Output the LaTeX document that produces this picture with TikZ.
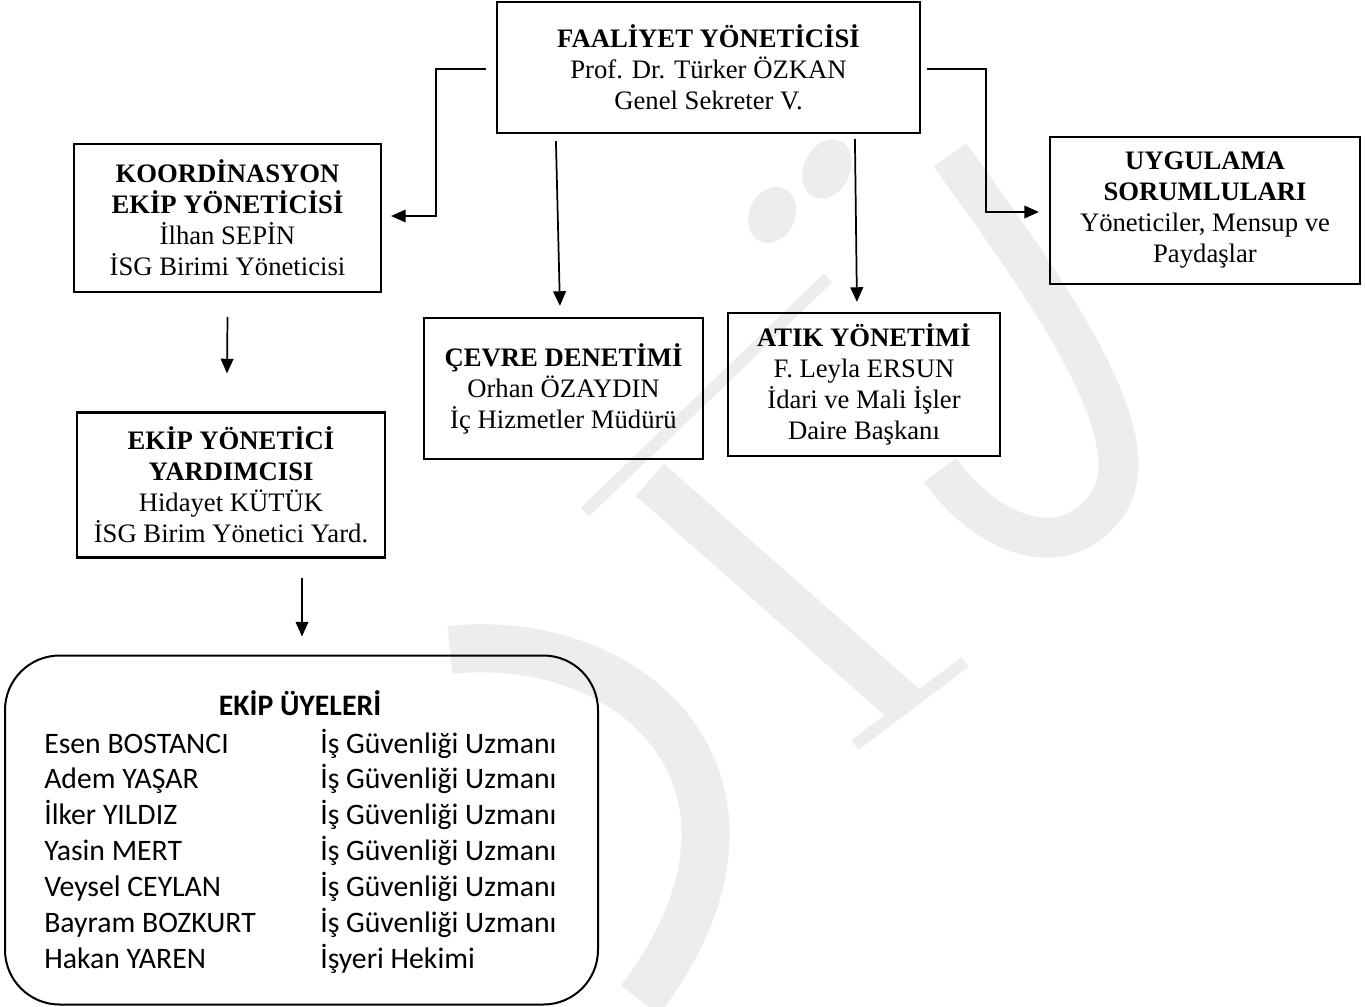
\documentclass[tikz,border=0pt]{standalone}
\usepackage{fontspec}
\setmainfont{Liberation Serif}
\newfontfamily\calfont{Carlito}
\usetikzlibrary{arrows.meta,calc}
\tikzset{
  box/.style={draw=black, line width=1.6pt, align=center, inner sep=0pt,
    font=\fontsize{20}{23.25}\selectfont},
  arr/.style={draw=black, line width=1.3pt, -{Triangle[length=11pt,width=9.5pt]}},
  wm/.style={draw=black!7, line cap=butt},
  wmfill/.style={fill=black!7, draw=none},
  mem/.style={anchor=base west, inner sep=0pt, font=\calfont\fontsize{22.3}{26}\selectfont}
}
\begin{document}
\begin{tikzpicture}[x=0.75pt,y=-0.75pt]
\useasboundingbox (0,0) rectangle (1365,1007);
\fill[white] (0,0) rectangle (1365,1007);
% watermark (faint logo)
\begin{scope}
\fill[wmfill, rotate around={-25:(827,169)}] (827,169) ellipse (23 and 31);
\fill[wmfill, rotate around={-25:(772,215)}] (772,215) ellipse (23 and 29);
\draw[wm, line width=30pt] (950,155) .. controls (1040,280) and (1150,430) .. (1110,500)
   .. controls (1070,565) and (990,540) .. (940,470);
\draw[wm, line width=9pt] (585,512) -- (828,278);
\draw[wm, line width=32pt] (650,480) -- (905,705);
\draw[wm, line width=9pt] (855,745) -- (965,662);
\draw[wm, line width=36pt] (450,650) .. controls (640,630) and (800,790) .. (640,1000);
\end{scope}
% boxes
\node[box, minimum width=423*0.75pt, minimum height=131*0.75pt] (top) at (708.5,67.5)
  {\textbf{FAALİYET YÖNETİCİSİ}\\Prof. Dr. Türker ÖZKAN\\Genel Sekreter V.};
\node[box, minimum width=307*0.75pt, minimum height=148*0.75pt] (koord) at (227.5,218)
  {\textbf{KOORDİNASYON}\\\textbf{EKİP YÖNETİCİSİ}\\İlhan SEPİN\\İSG Birimi Yöneticisi};
\node[box, minimum width=310*0.75pt, minimum height=147*0.75pt] (uyg) at (1205,210.5)
  {\textbf{UYGULAMA}\\\textbf{SORUMLULARI}\\Yöneticiler, Mensup ve\\Paydaşlar};
\node[box, minimum width=279*0.75pt, minimum height=141*0.75pt] (cevre) at (563.5,388.5)
  {\textbf{ÇEVRE DENETİMİ}\\Orhan ÖZAYDIN\\İç Hizmetler Müdürü};
\node[box, minimum width=272*0.75pt, minimum height=143*0.75pt] (atik) at (864,384.5)
  {\textbf{ATIK YÖNETİMİ}\\F. Leyla ERSUN\\İdari ve Mali İşler\\Daire Başkanı};
\node[box, minimum width=308*0.75pt, minimum height=145*0.75pt] (yard) at (231,485)
  {\textbf{EKİP YÖNETİCİ}\\\textbf{YARDIMCISI}\\Hidayet KÜTÜK\\İSG Birim Yönetici Yard.};
\node[draw=black, line width=1.5pt, rounded corners=41pt, minimum width=593*0.75pt,
  minimum height=349*0.75pt, inner sep=0pt] (uye) at (301.5,830) {};
% member list
\node[anchor=base, inner sep=0pt, font=\calfont\bfseries\fontsize{22.3}{26}\selectfont] (uyet) at (300,715) {EKİP ÜYELERİ};
\foreach \i/\n/\r/\y in {1/Esen BOSTANCI/İş Güvenliği Uzmanı/753,
  2/Adem YAŞAR/İş Güvenliği Uzmanı/788.5,
  3/İlker YILDIZ/İş Güvenliği Uzmanı/824.5,
  4/Yasin MERT/İş Güvenliği Uzmanı/860.5,
  5/Veysel CEYLAN/İş Güvenliği Uzmanı/896.5,
  6/Bayram BOZKURT/İş Güvenliği Uzmanı/932,
  7/Hakan YAREN/İşyeri Hekimi/968}{
  \node[mem] (n\i) at (44,\y) {\n};
  \node[mem] (r\i) at (320,\y) {\r};
}
% connectors
\draw[arr] ($(top.west)+(-10,1.5)$) -- ++(-50,0) |- ($(koord.east)+(9,-2)$);
\draw[arr] ($(top.east)+(6,1.5)$) -- ++(59,0) |- ($(uyg.west)+(-10,1.5)$);
\draw[arr] ($(top.south west)+(60,7)$) -- ($(cevre.north west)+(137,-11)$);
\draw[arr] ($(top.south west)+(359,5)$) -- ($(atik.north west)+(130,-10)$);
\draw[arr] ($(koord.south)+(0,24)$) -- ($(yard.north)+(-4,-38)$);
\draw[arr] ($(yard.south)+(71,19)$) -- ($(uye.north)+(0.5,-18)$);
\end{tikzpicture}
\end{document}
